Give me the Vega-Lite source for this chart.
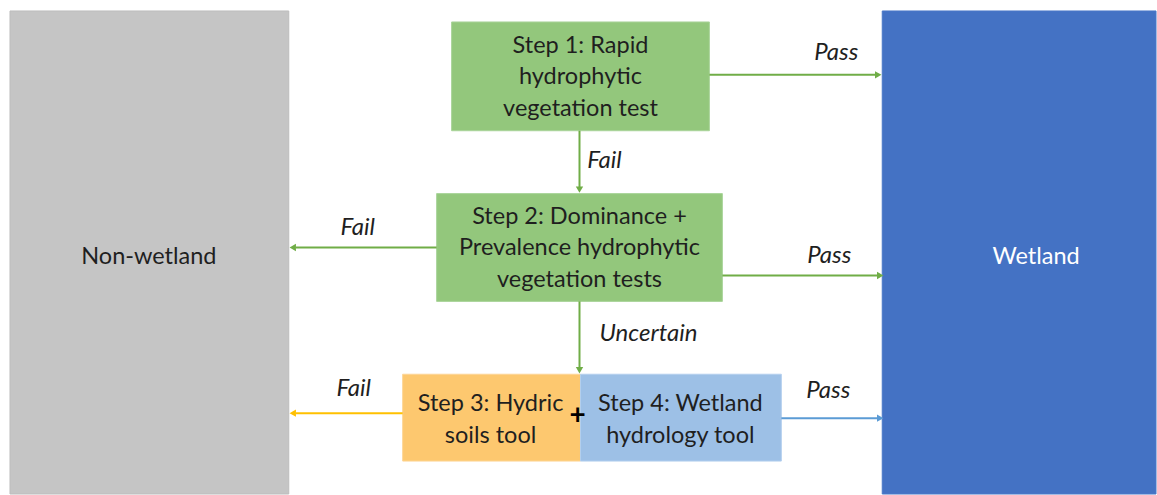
{
  "$schema": "https://vega.github.io/schema/vega-lite/v6.json",
  "width": 1157,
  "height": 495,
  "padding": 0,
  "autosize": {"type": "fit", "contains": "padding"},
  "background": "white",
  "config": {"view": {"stroke": null}},
  "datasets": {
    "boxes": [
      {"name": "Non-wetland", "x1": 10, "x2": 289, "y1": 11, "y2": 495, "fill": "#c5c5c5", "stroke": "#bdbdbd"},
      {"name": "Wetland", "x1": 883, "x2": 1157, "y1": 11, "y2": 495, "fill": "#4472c4", "stroke": "#4a78c8"},
      {"name": "Step 1", "x1": 452, "x2": 710, "y1": 22, "y2": 131, "fill": "#93c77c", "stroke": "#a9d49a"},
      {"name": "Step 2", "x1": 437, "x2": 723, "y1": 194, "y2": 302, "fill": "#93c77c", "stroke": "#a9d49a"},
      {"name": "Step 3", "x1": 403, "x2": 581, "y1": 375, "y2": 462, "fill": "#fdc86f", "stroke": "#fdd596"},
      {"name": "Step 4", "x1": 581, "x2": 782, "y1": 375, "y2": 462, "fill": "#9dc0e6", "stroke": "#b3cfee"}
    ],
    "arrows": [
      {"id": "s1pass", "x1": 710, "x2": 876, "y1": 75, "y2": 75, "color": "#70ad47"},
      {"id": "s1fail", "x1": 580, "x2": 580, "y1": 131, "y2": 188, "color": "#70ad47"},
      {"id": "s2fail", "x1": 437, "x2": 296, "y1": 248, "y2": 248, "color": "#70ad47"},
      {"id": "s2pass", "x1": 723, "x2": 878, "y1": 276, "y2": 276, "color": "#70ad47"},
      {"id": "s2unc", "x1": 580, "x2": 580, "y1": 302, "y2": 369, "color": "#70ad47"},
      {"id": "s3fail", "x1": 403, "x2": 296, "y1": 414, "y2": 414, "color": "#ffc000"},
      {"id": "s4pass", "x1": 782, "x2": 878, "y1": 419, "y2": 419, "color": "#5b9bd5"}
    ],
    "heads": [
      {"id": "s1pass", "x": 879, "y": 75, "shape": "triangle-right", "color": "#70ad47"},
      {"id": "s1fail", "x": 580, "y": 190, "shape": "triangle-down", "color": "#70ad47"},
      {"id": "s2fail", "x": 293, "y": 248, "shape": "triangle-left", "color": "#70ad47"},
      {"id": "s2pass", "x": 881, "y": 276, "shape": "triangle-right", "color": "#70ad47"},
      {"id": "s2unc", "x": 580, "y": 371, "shape": "triangle-down", "color": "#70ad47"},
      {"id": "s3fail", "x": 293, "y": 414, "shape": "triangle-left", "color": "#ffc000"},
      {"id": "s4pass", "x": 881, "y": 419, "shape": "triangle-right", "color": "#5b9bd5"}
    ],
    "labels": [
      {"text": "Non-wetland", "x": 149, "y": 258, "color": "#1f1f1f"},
      {"text": "Wetland", "x": 1037, "y": 258, "color": "#ffffff"},
      {"text": "Step 1: Rapid\nhydrophytic\nvegetation test", "x": 581, "y": 46, "color": "#1f1f1f"},
      {"text": "Step 2: Dominance +\nPrevalence hydrophytic\nvegetation tests", "x": 580, "y": 217, "color": "#1f1f1f"},
      {"text": "Step 3: Hydric\nsoils tool", "x": 491, "y": 405, "color": "#1f1f1f"},
      {"text": "Step 4: Wetland\nhydrology tool", "x": 681, "y": 405, "color": "#1f1f1f"}
    ],
    "italics": [
      {"text": "Pass", "x": 837, "y": 53},
      {"text": "Fail", "x": 605, "y": 161},
      {"text": "Fail", "x": 358, "y": 228},
      {"text": "Pass", "x": 830, "y": 257},
      {"text": "Uncertain", "x": 649, "y": 335},
      {"text": "Fail", "x": 354, "y": 390},
      {"text": "Pass", "x": 829, "y": 392}
    ],
    "plus": [
      {"text": "+", "x": 578, "y": 417}
    ]
  },
  "layer": [
    {
      "data": {"name": "boxes"},
      "mark": {"type": "rect", "strokeWidth": 1},
      "encoding": {
        "x": {"field": "x1", "type": "quantitative", "scale": {"domain": [0, 1157], "nice": false, "zero": false}, "axis": null},
        "x2": {"field": "x2"},
        "y": {"field": "y1", "type": "quantitative", "scale": {"domain": [0, 495], "nice": false, "zero": false, "reverse": true}, "axis": null},
        "y2": {"field": "y2"},
        "fill": {"field": "fill", "type": "nominal", "scale": null},
        "stroke": {"field": "stroke", "type": "nominal", "scale": null}
      }
    },
    {
      "data": {"name": "arrows"},
      "mark": {"type": "rule", "strokeWidth": 2},
      "encoding": {
        "x": {"field": "x1", "type": "quantitative"},
        "x2": {"field": "x2"},
        "y": {"field": "y1", "type": "quantitative"},
        "y2": {"field": "y2"},
        "color": {"field": "color", "type": "nominal", "scale": null}
      }
    },
    {
      "data": {"name": "heads"},
      "mark": {"type": "point", "filled": true, "opacity": 1, "size": 55},
      "encoding": {
        "x": {"field": "x", "type": "quantitative"},
        "y": {"field": "y", "type": "quantitative"},
        "shape": {"field": "shape", "type": "nominal", "scale": null},
        "color": {"field": "color", "type": "nominal", "scale": null}
      }
    },
    {
      "data": {"name": "labels"},
      "mark": {"type": "text", "font": "Lato", "fontSize": 23.5, "lineBreak": "\n", "lineHeight": 31.5, "align": "center", "baseline": "middle"},
      "encoding": {
        "x": {"field": "x", "type": "quantitative"},
        "y": {"field": "y", "type": "quantitative"},
        "text": {"field": "text", "type": "nominal"},
        "color": {"field": "color", "type": "nominal", "scale": null}
      }
    },
    {
      "data": {"name": "italics"},
      "mark": {"type": "text", "font": "Lato", "fontSize": 24, "fontStyle": "italic", "align": "center", "baseline": "middle", "color": "#1f1f1f"},
      "encoding": {
        "x": {"field": "x", "type": "quantitative"},
        "y": {"field": "y", "type": "quantitative"},
        "text": {"field": "text", "type": "nominal"}
      }
    },
    {
      "data": {"name": "plus"},
      "mark": {"type": "text", "font": "Lato", "fontSize": 28, "fontWeight": "bold", "align": "center", "baseline": "middle", "color": "#000000"},
      "encoding": {
        "x": {"field": "x", "type": "quantitative"},
        "y": {"field": "y", "type": "quantitative"},
        "text": {"field": "text", "type": "nominal"}
      }
    }
  ]
}
